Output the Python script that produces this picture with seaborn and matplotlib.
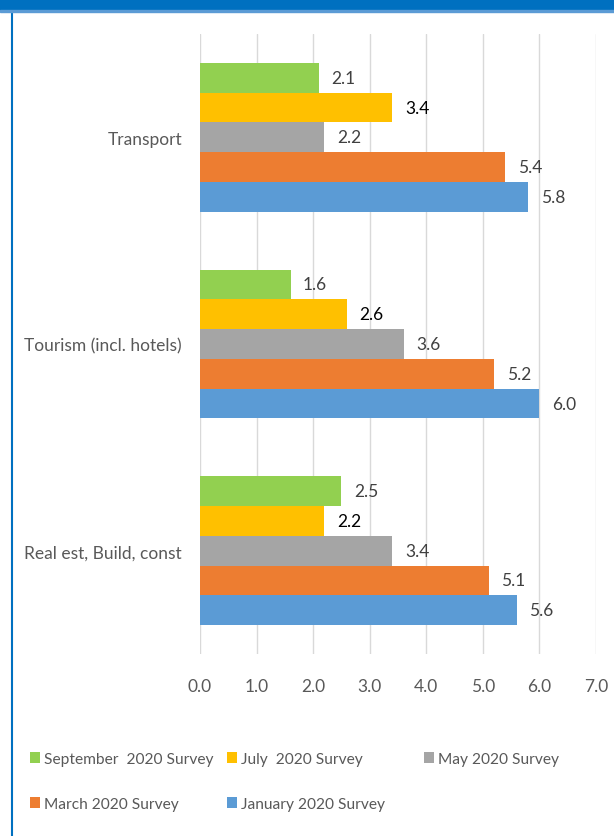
import matplotlib
matplotlib.use("Agg")
import matplotlib.pyplot as plt
from matplotlib.patches import Rectangle
from matplotlib.lines import Line2D
import seaborn as sns
import pandas as pd

# ---- data ----
sectors = ["Transport", "Tourism (incl. hotels)", "Real est, Build, const"]
surveys = ["September  2020 Survey", "July  2020 Survey", "May 2020 Survey",
           "March 2020 Survey", "January 2020 Survey"]
sep_2020 = [2.1, 1.6, 2.5]
jul_2020 = [3.4, 2.6, 2.2]
may_2020 = [2.2, 3.6, 3.4]
mar_2020 = [5.4, 5.2, 5.1]
jan_2020 = [5.8, 6.0, 5.6]
x_ticks = [0, 1, 2, 3, 4, 5, 6, 7]

series = [sep_2020, jul_2020, may_2020, mar_2020, jan_2020]
colors = ["#92D050", "#FFC000", "#A5A5A5", "#ED7D31", "#5B9BD5"]
label_colors = ["#404040", "#000000", "#404040", "#404040", "#404040"]

rows = []
for s, vals in zip(surveys, series):
    for sec, v in zip(sectors, vals):
        rows.append({"sector": sec, "survey": s, "value": v})
df = pd.DataFrame(rows)

sns.set_style("white")
plt.rcParams["font.family"] = ["Lato", "DejaVu Sans"]

W, H = 614, 837
fig = plt.figure(figsize=(W / 100, H / 100), dpi=100)
ax = fig.add_axes([200 / W, 1 - 655 / H, 396 / W, 620 / H])

sns.barplot(data=df, y="sector", x="value", hue="survey", orient="h",
            order=sectors, hue_order=surveys, palette=colors, saturation=1,
            width=0.72, linewidth=0, ax=ax, legend=True)

for cont, lc in zip(ax.containers, label_colors):
    ax.bar_label(cont, fmt="%.1f", padding=9, color=lc, fontsize=12.5)

ax.set_xlim(0, 7)
ax.set_ylim(2.5, -0.5)
ax.set_xticks(x_ticks)
ax.set_xticklabels([f"{t:.1f}" for t in x_ticks])
ax.set_xlabel("")
ax.set_ylabel("")
ax.xaxis.grid(True, color="#D9D9D9", lw=1)
ax.yaxis.grid(False)
ax.set_axisbelow(True)
for sp in ax.spines.values():
    sp.set_visible(False)
ax.tick_params(axis="x", length=0, pad=17, labelsize=12.5, labelcolor="#595959")
ax.tick_params(axis="y", length=0, pad=13, labelsize=12.5, labelcolor="#595959")

handles, labels = ax.get_legend_handles_labels()
if ax.legend_ is not None:
    ax.legend_.remove()

positions = [(30, 760), (227, 760), (424, 760), (30, 805), (227, 805)]
for h, l, (px, py) in zip(handles, labels, positions):
    fig.legend(handles=[h], labels=[l], loc="center left",
               bbox_to_anchor=(px / W, 1 - py / H), frameon=False,
               borderpad=0, borderaxespad=0, handlelength=0.62,
               handleheight=0.75, handletextpad=0.25, fontsize=11.2,
               labelcolor="#595959")

# frame decorations
fig.patches.append(Rectangle((0, 1 - 11 / H), 1, 11 / H, transform=fig.transFigure,
                             color="#0070C0", zorder=5))
fig.patches.append(Rectangle((0, 1 - 13 / H), 1, 2 / H, transform=fig.transFigure,
                             color="#5B9BD5", zorder=5))
fig.lines.append(Line2D([11.5 / W, 11.5 / W], [0, 1 - 11 / H], transform=fig.transFigure,
                        color="#0070C0", lw=1.5))

fig.savefig("out.png", dpi=100)
